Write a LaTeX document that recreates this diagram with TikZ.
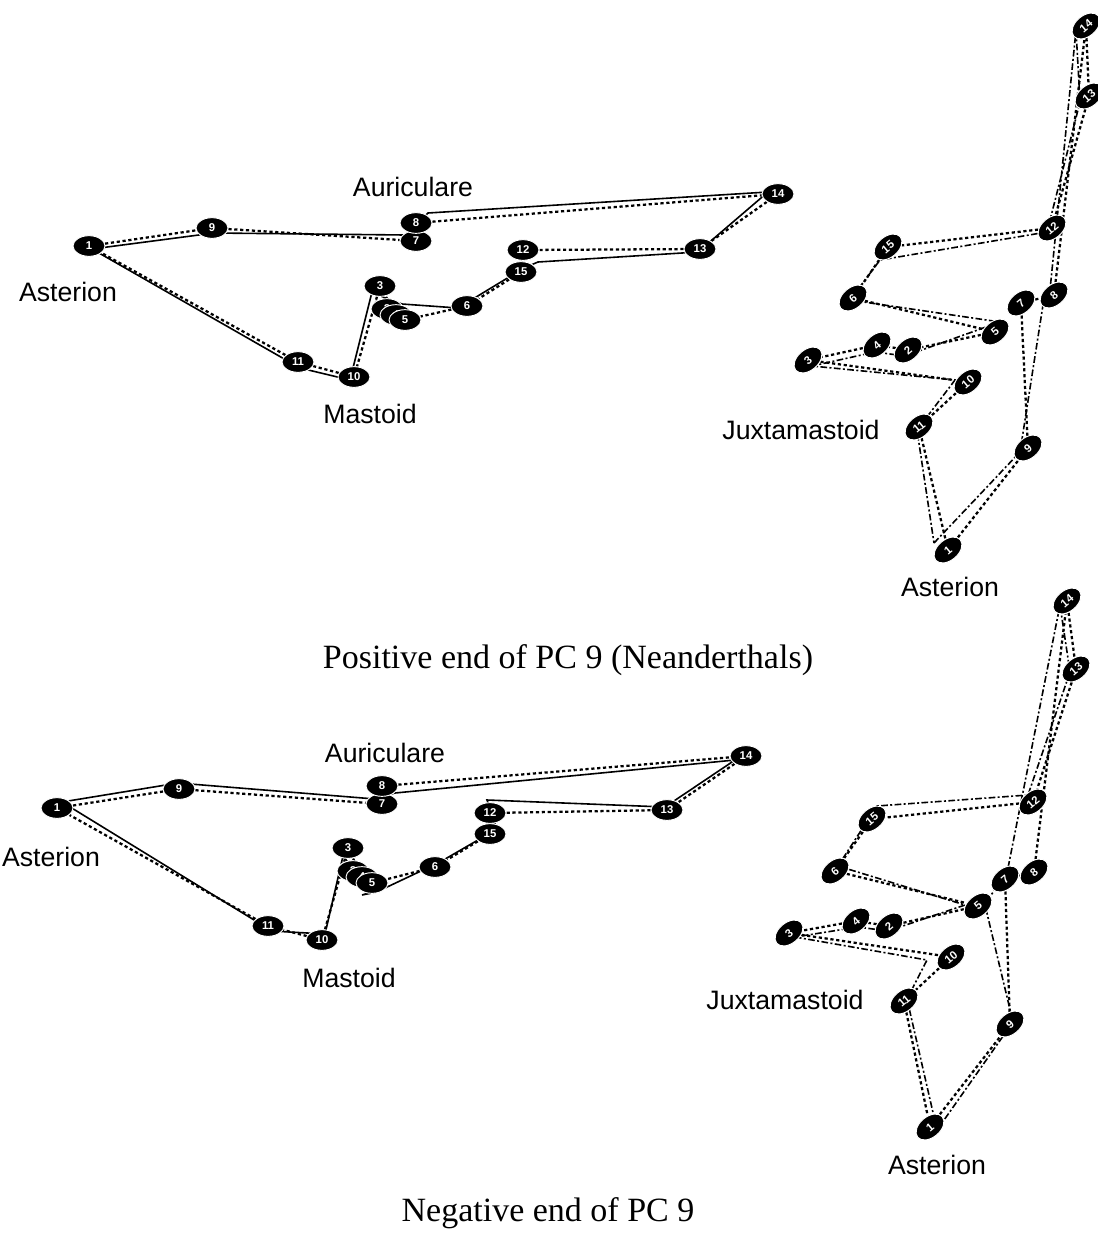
\documentclass[tikz,border=0pt]{standalone}
\usepackage{fontspec}
\setmainfont{Liberation Serif}
\setsansfont{Liberation Sans}
\usetikzlibrary{shapes.geometric,backgrounds}

% outline of the landmark wireframe: 1-9-7-8-14-13-12-15-6-5-2-4-3-10-11-1
\newcommand{\wireloop}[2]{%
  \draw[#2] (#1-1) -- (#1-9) -- (#1-7) -- (#1-8) -- (#1-14) -- (#1-13)
    -- (#1-12) -- (#1-15) -- (#1-6) -- (#1-5) -- (#1-2) -- (#1-4)
    -- (#1-3) -- (#1-10) -- (#1-11) -- (#1-1);}

\begin{document}
\begin{tikzpicture}[x=0.75pt,y=-0.75pt,
  lm/.style={ellipse, fill=black, draw=white, line width=0.7pt, text=white,
    inner sep=0pt, minimum width=24pt, minimum height=15.5pt,
    font=\sffamily\bfseries\fontsize{8.5}{9}\selectfont},
  lmr/.style={lm, rotate=40},
  devline/.style={line width=1.7pt, dash pattern=on 2.4pt off 2pt},
  meanline/.style={line width=1.2pt},
  meanliner/.style={line width=1.2pt, dash pattern=on 5pt off 1.8pt on 1.5pt off 1.8pt},
  lbl/.style={font=\sffamily\fontsize{20}{24}\selectfont},
  captext/.style={font=\fontsize{25.5}{30}\selectfont}]
\useasboundingbox (0,0) rectangle (1097,1239);

% ---------- positive end, lateral view ----------
\foreach \n/\x/\y in {1/89/246, 9/212/228, 7/416/241, 8/416/223, 14/778/194,
  13/700/249, 12/523/250, 15/521/272, 6/467/306, 3/380/286, 2/387/309,
  4/396/315, 5/405/320, 10/354/377, 11/298/362}
  \node[lm] (tl-\n) at (\x,\y) {\n};
\foreach \n/\x/\y in {1/92/249, 9/214/233, 7/405/235, 8/428/213, 14/768/192,
  13/698/252, 12/538/262, 15/524/268, 6/458/308, 5/402/304, 4/392/301,
  2/384/298, 3/372/292, 10/350/380, 11/300/368}
  \coordinate (tlm-\n) at (\x,\y);
\node[lbl] (tlAur) at (413,187) {Auriculare};
\node[lbl] (tlAst) at (68,292) {Asterion};
\node[lbl] (tlMas) at (370,414) {Mastoid};

% ---------- positive end, posterior view ----------
\foreach \n/\x/\y in {14/1086/26, 13/1089/96, 12/1052/228, 15/888/247,
  6/853/298, 7/1021/303, 8/1054/295, 5/995/332, 3/808/360, 4/877/345,
  2/908/350, 10/968/382, 11/919/427, 9/1028/448, 1/948/550}
  \node[lmr] (tr-\n) at (\x,\y) {\n};
\foreach \n/\x/\y in {1/934/543, 9/1020/452, 7/1043/305, 8/1050/290,
  14/1076/30, 13/1080/102, 12/1047/232, 15/880/260, 6/850/300, 5/1000/322,
  4/875/352, 2/905/356, 3/812/366, 10/955/380, 11/917/430}
  \coordinate (trm-\n) at (\x,\y);
\node[lbl] (trJux) at (801,430) {Juxtamastoid};
\node[lbl] (trAst) at (950,587) {Asterion};

\node[captext] (capPos) at (568,660) {Positive end of PC 9 (Neanderthals)};

% ---------- negative end, lateral view ----------
\foreach \n/\x/\y in {1/57/808, 9/179/789, 7/382/804, 8/382/786, 14/746/756,
  13/667/810, 12/490/813, 15/490/834, 6/435/867, 3/348/848, 2/353/871,
  4/362/877, 5/372/883, 10/322/940, 11/268/926}
  \node[lm] (bl-\n) at (\x,\y) {\n};
\foreach \n/\x/\y in {1/62/802, 9/178/783, 7/375/799, 8/395/793, 14/735/760,
  13/665/807, 12/487/800, 15/497/829, 6/440/862, 5/385/888, 4/372/893,
  2/362/895, 3/343/856, 10/325/934, 11/272/931}
  \coordinate (blm-\n) at (\x,\y);
\node[lbl] (blAur) at (385,753) {Auriculare};
\node[lbl] (blAst) at (51,857) {Asterion};
\node[lbl] (blMas) at (349,978) {Mastoid};

% ---------- negative end, posterior view ----------
\foreach \n/\x/\y in {14/1067/601, 13/1076/669, 12/1033/802, 15/872/819,
  6/835/871, 7/1005/879, 8/1034/872, 5/978/906, 3/789/933, 4/856/921,
  2/889/926, 10/951/957, 11/904/1001, 9/1010/1024, 1/930/1127}
  \node[lmr] (br-\n) at (\x,\y) {\n};
\foreach \n/\x/\y in {1/937/1130, 9/1013/1022, 7/985/905, 8/1008/868,
  14/1060/605, 13/1070/672, 12/1028/795, 15/877/806, 6/838/866, 5/965/905,
  4/858/927, 2/888/931, 3/795/937, 10/927/960, 11/907/999}
  \coordinate (brm-\n) at (\x,\y);
\node[lbl] (brJux) at (785,1000) {Juxtamastoid};
\node[lbl] (brAst) at (937,1165) {Asterion};

\node[captext] (capNeg) at (548,1213) {Negative end of PC 9};

% ---------- wireframes behind the landmarks ----------
\begin{scope}[on background layer]
  \wireloop{tlm}{meanline}
  \wireloop{tl}{devline}
  \wireloop{trm}{meanliner}
  \wireloop{tr}{devline}
  \wireloop{blm}{meanline}
  \wireloop{bl}{devline}
  \wireloop{brm}{meanliner}
  \wireloop{br}{devline}
\end{scope}
\end{tikzpicture}
\end{document}
